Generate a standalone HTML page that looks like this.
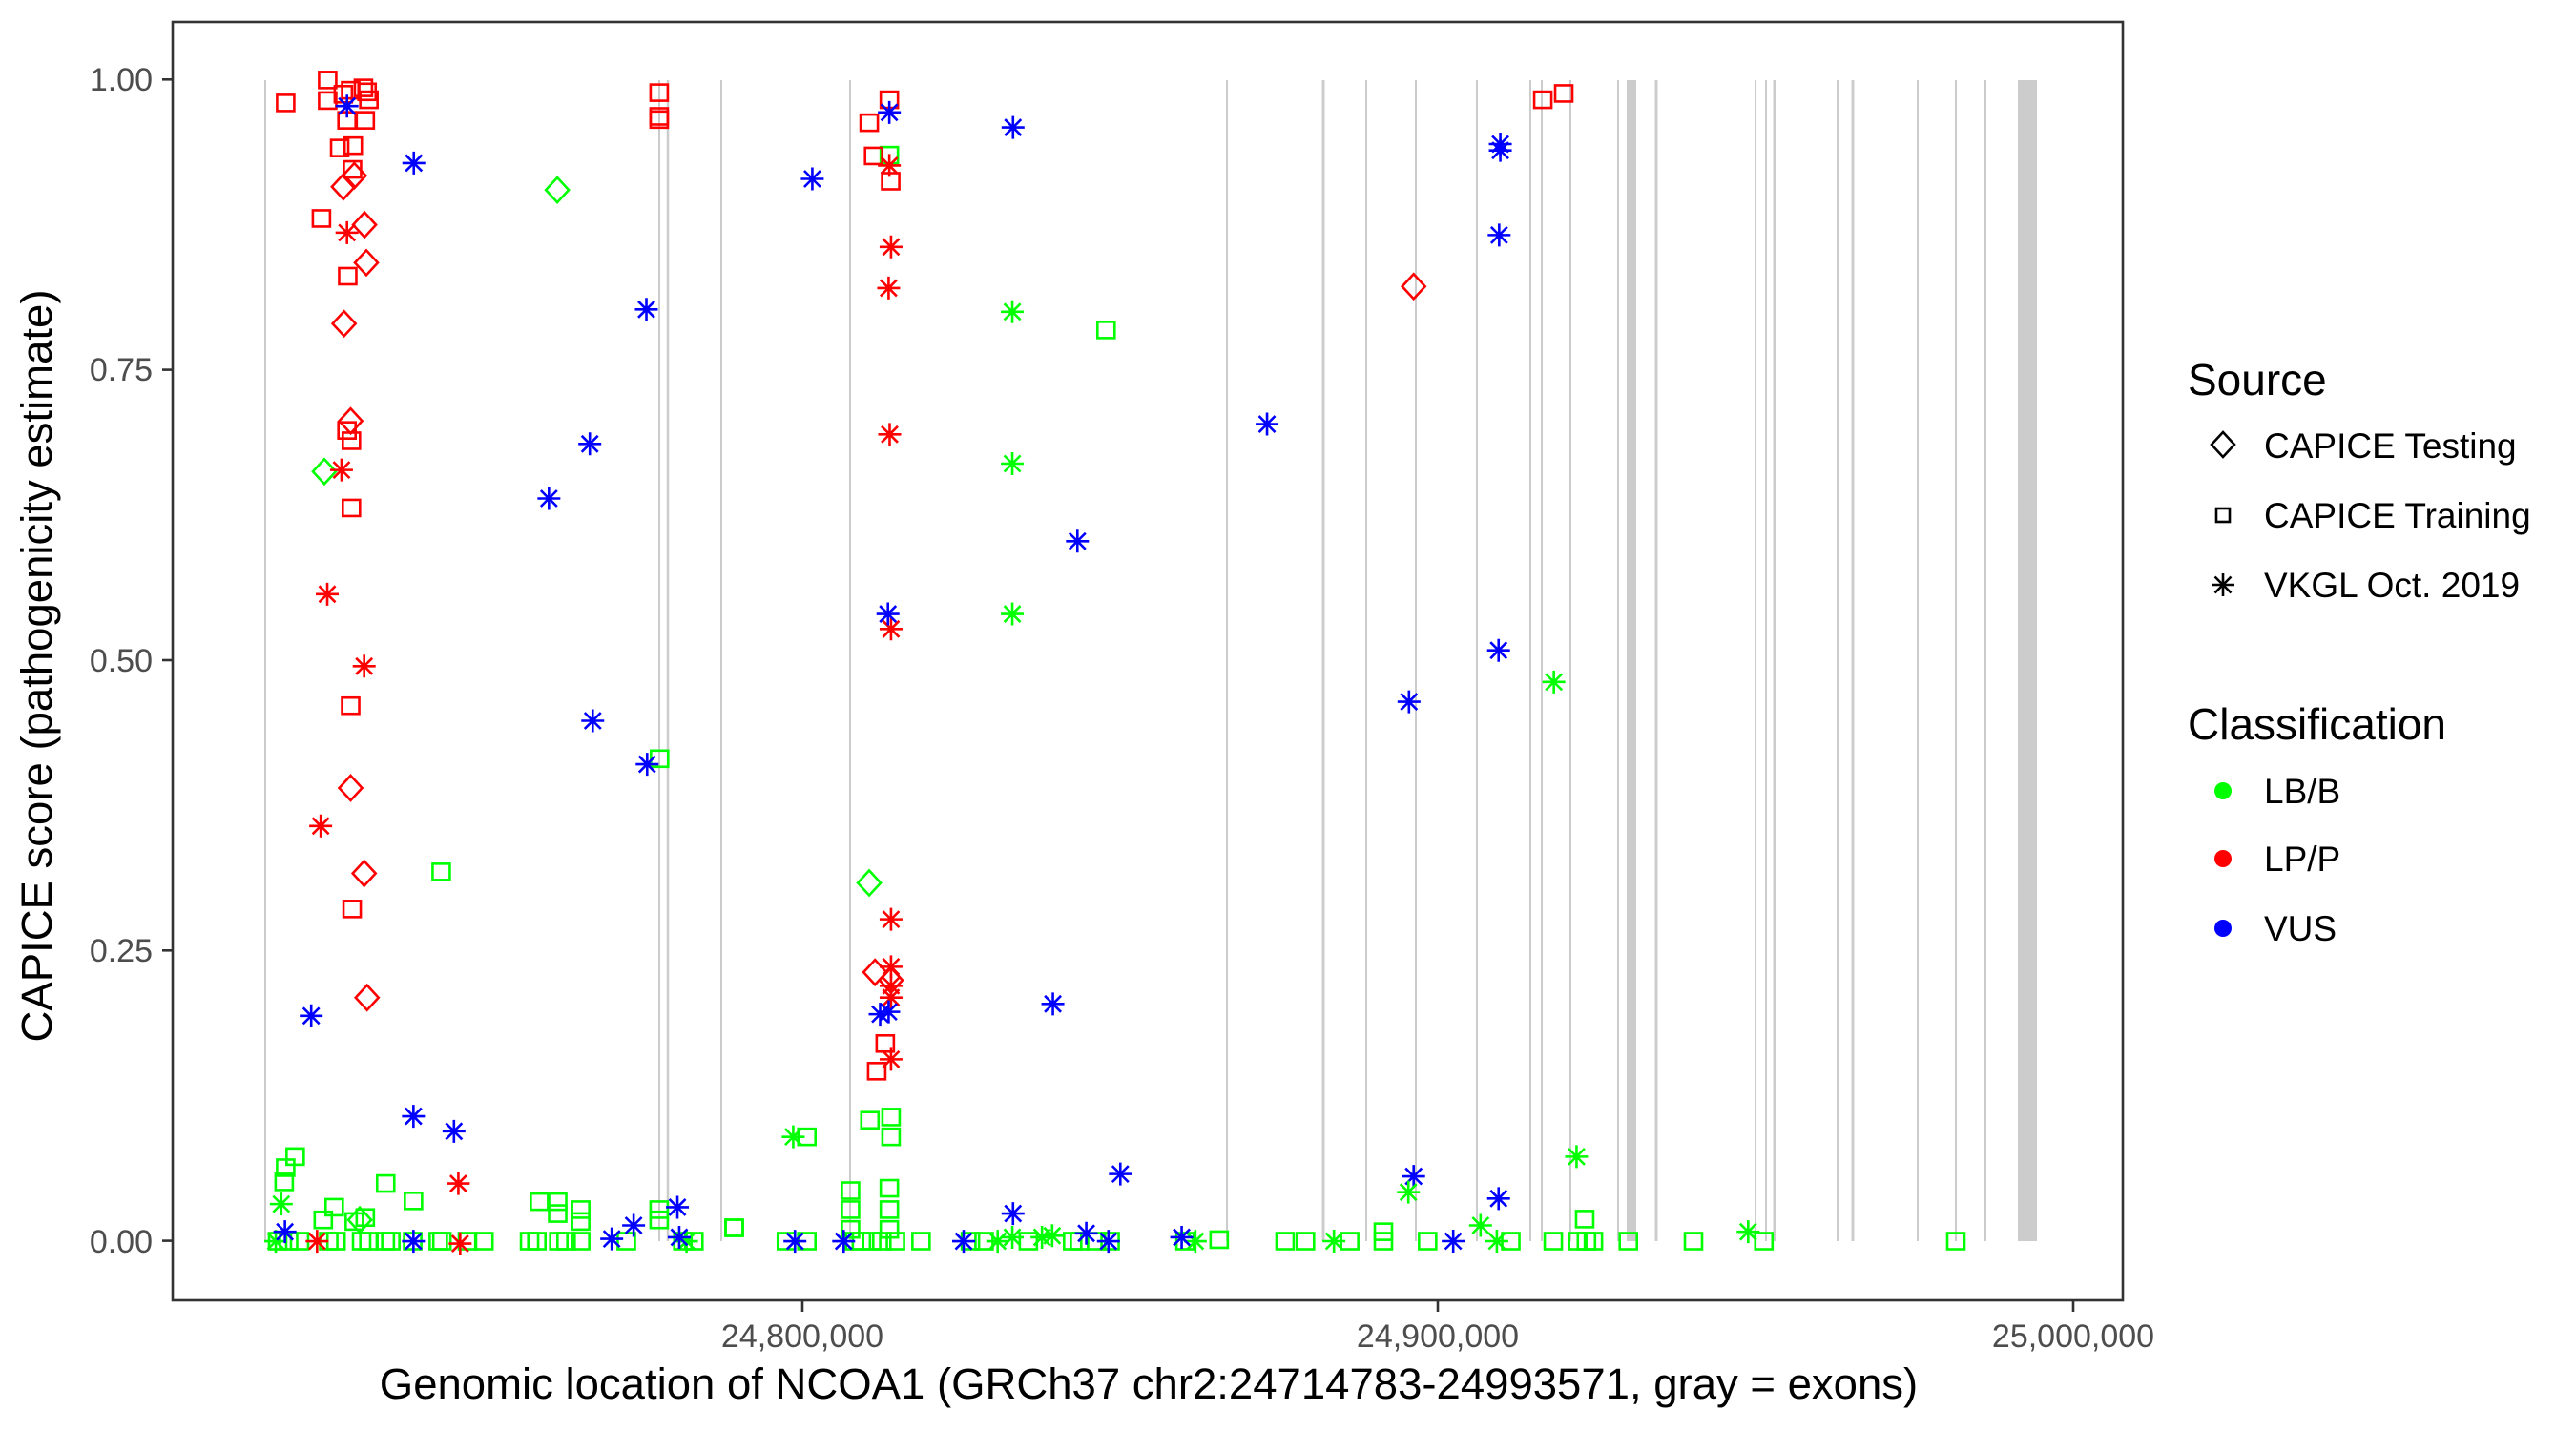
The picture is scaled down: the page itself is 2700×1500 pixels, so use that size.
<!DOCTYPE html>
<html><head><meta charset="utf-8"><style>
html,body{margin:0;padding:0;background:#fff;}
svg{display:block;font-family:"Liberation Sans",Arial,sans-serif;}
</style></head><body>
<svg id="s" width="2700" height="1500" viewBox="0 0 2700 1500" xmlns="http://www.w3.org/2000/svg">
<rect width="2700" height="1500" fill="#fff"/>
<g id="exons"></g>
<g id="pts" fill="none" stroke-width="2.6"></g>
<rect x="181" y="23" width="2044" height="1340" fill="none" stroke="#333" stroke-width="2.6"/>
<g stroke="#333" stroke-width="2.6">
<line x1="170" y1="83.3" x2="181" y2="83.3"/><line x1="170" y1="387.6" x2="181" y2="387.6"/><line x1="170" y1="692" x2="181" y2="692"/><line x1="170" y1="996.3" x2="181" y2="996.3"/><line x1="170" y1="1300.6" x2="181" y2="1300.6"/>
<line x1="841" y1="1363" x2="841" y2="1375"/><line x1="1507" y1="1363" x2="1507" y2="1375"/><line x1="2173" y1="1363" x2="2173" y2="1375"/>
</g>
<g fill="#4D4D4D" font-size="34" text-anchor="end">
<text x="160" y="95">1.00</text><text x="160" y="399">0.75</text><text x="160" y="704">0.50</text><text x="160" y="1008">0.25</text><text x="160" y="1313">0.00</text>
</g>
<g fill="#4D4D4D" font-size="34" text-anchor="middle">
<text x="841" y="1412">24,800,000</text><text x="1507" y="1412">24,900,000</text><text x="2173" y="1412">25,000,000</text>
</g>
<text x="1204" y="1466" font-size="45.5" text-anchor="middle" fill="#000">Genomic location of NCOA1 (GRCh37 chr2:24714783-24993571, gray = exons)</text>
<text transform="translate(54,698) rotate(-90)" font-size="45.5" text-anchor="middle" fill="#000">CAPICE score (pathogenicity estimate)</text>
<g font-size="46" fill="#000"><text x="2293" y="414">Source</text><text x="2293" y="775">Classification</text></g>
<g font-size="37" fill="#000">
<text x="2373" y="480">CAPICE Testing</text><text x="2373" y="553">CAPICE Training</text><text x="2373" y="626">VKGL Oct. 2019</text>
<text x="2373" y="842">LB/B</text><text x="2373" y="913">LP/P</text><text x="2373" y="986">VUS</text>
</g>
<g id="leg" fill="none" stroke="#000" stroke-width="2.6"></g>
<circle cx="2330" cy="829" r="9" fill="#00FF00"/><circle cx="2330" cy="900" r="9" fill="#FF0000"/><circle cx="2330" cy="973" r="9" fill="#0000FF"/>
</svg>
<script>
var NS="http://www.w3.org/2000/svg";
function el(p,t,a){var e=document.createElementNS(NS,t);for(var k in a)e.setAttribute(k,a[k]);p.appendChild(e);return e;}
var ex=document.getElementById('exons');
var thin=[[278,2],[691,2],[700,2.5],[756,2],[891,2],[1286,2],[1387,3],[1432,2],[1484,2],[1548,2],[1604,2],[1616,2],[1646,2],[1696,2],[1736,3],[1840,2],[1851,2],[1860,3],[1926,2],[1942,3],[2010,2],[2050,2],[2081,2]];
thin.forEach(function(l){el(ex,'rect',{x:l[0]-l[1]/2,y:84,width:l[1],height:1217,fill:'#CCCCCC'});});
el(ex,'rect',{x:1705,y:84,width:10,height:1217,fill:'#CCCCCC'});
el(ex,'rect',{x:2115,y:84,width:20,height:1217,fill:'#CCCCCC'});
var pg=document.getElementById('pts');
var C={r:'#FF0000',g:'#00FF00',b:'#0000FF'};
function sq(g,x,y,c){el(g,'rect',{x:x-9,y:y-8.5,width:18,height:17,stroke:c});}
function di(g,x,y,c){el(g,'polygon',{points:(x)+','+(y-13)+' '+(x+12)+','+y+' '+x+','+(y+13)+' '+(x-12)+','+y,stroke:c});}
function st(g,x,y,c){var r=12,d=8.5;el(g,'path',{d:'M'+(x-r)+' '+y+'H'+(x+r)+'M'+x+' '+(y-r)+'V'+(y+r)+'M'+(x-d)+' '+(y-d)+'L'+(x+d)+' '+(y+d)+'M'+(x-d)+' '+(y+d)+'L'+(x+d)+' '+(y-d),stroke:c});}
var F={s:sq,d:di,a:st};
var Z={6:[180,2.613],7:[760,2.8],5:[1300,1.64]};
function P(z,list){var f=Z[z];list.forEach(function(p){var x=f[0]+p[2]/f[1];var y=p[3]===0?1301:20+p[3]/1.206;F[p[0]](pg,x,y,C[p[1]]);});}
function row(z,shape,col,xs){P(z,xs.map(function(x){return [shape,col,x,0];}));}
row(6,'s','g',[290,320,350,430,450,520,540,585,600,660,730,740,810,855,980,1000,1060,1080,1120,1245,1400,1430]);
P(6,[['s','g',1336,935],['s','g',738,1078],['s','g',338,1438],['s','g',312,1452],['s','g',308,1470],['s','g',586,1472],['s','g',662,1494],['s','g',1007,1495],['s','g',1057,1495],['s','g',1057,1510],['s','g',1120,1505],['s','g',1120,1520],['s','g',1335,1505],['s','g',1335,1518],['s','g',1540,1528],['s','g',445,1502],['s','g',415,1518],['s','g',530,1515],['s','g',500,1520],
['a','g',300,1498],['a','g',285,1545],['a','g',1410,1545],
['d','g',1056,216],['d','g',418,572],['d','g',515,1518],
['s','r',312,106],['s','r',427,77],['s','r',427,103],['s','r',470,95],['s','r',490,90],['s','r',525,87],['s','r',535,92],['s','r',540,102],['s','r',480,128],['s','r',530,128],['s','r',460,163],['s','r',497,160],['s','r',495,190],['s','r',410,252],['s','r',482,325],['s','r',480,520],['s','r',492,533],['s','r',492,618],['s','r',490,868],['s','r',494,1125],['s','r',1335,93],['s','r',1335,123],['s','r',1335,127],
['d','r',470,212],['d','r',500,198],['d','r',528,260],['d','r',533,308],['d','r',472,385],['d','r',490,508],['d','r',490,972],['d','r',527,1080],['d','r',535,1237],
['a','r',480,270],['a','r',465,570],['a','r',426,727],['a','r',527,818],['a','r',408,1020],['a','r',785,1472],['a','r',398,1545],['a','r',790,1548],
['a','b',480,110],['a','b',663,182],['a','b',1300,367],['a','b',1145,537],['a','b',1033,606],['a','b',1153,887],['a','b',1302,942],['a','b',382,1260],['a','b',662,1387],['a','b',773,1406],['a','b',1385,1502],['a','b',1265,1525],['a','b',1205,1542],['a','b',662,1545],['a','b',310,1533],['a','b',1390,1540]]);
row(7,'s','g',[180,240,380,400,430,460,500,575,720,760,890,1020,1040,1090,1130,1350]);
P(7,[['s','g',482,172],['s','g',1118,393],['s','g',425,1392],['s','g',487,1388],['s','g',487,1413],['s','g',240,1413],['s','g',27,1528],['s','g',368,1481],['s','g',482,1478],['s','g',368,1505],['s','g',482,1505],['s','g',368,1530],['s','g',482,1530],['s','g',1450,1543],
['a','g',843,370],['a','g',843,562],['a','g',843,752],['a','g',200,1413],['a','g',843,1540],['a','g',800,1545],['a','g',930,1540],['a','g',960,1538],['a','g',1380,1545],
['d','g',423,1092],
['s','r',482,102],['s','r',423,131],['s','r',436,173],['s','r',486,205],['s','r',470,1295],['s','r',445,1330],
['a','r',482,185],['a','r',487,288],['a','r',480,340],['a','r',483,525],['a','r',487,771],['a','r',487,1138],['a','r',487,1198],['a','r',487,1222],['a','r',487,1237],['a','r',487,1315],
['d','r',440,1205],['d','r',487,1215],
['a','b',482,118],['a','b',845,137],['a','b',256,202],['a','b',1034,660],['a','b',478,752],['a','b',962,1245],['a','b',455,1258],['a','b',480,1255],['a','b',1160,1460],['a','b',845,1510],['a','b',205,1545],['a','b',348,1545],['a','b',700,1545],['a','b',1060,1535],['a','b',1125,1545],['a','b',1340,1540]]);
row(5,'s','g',[77,112,188,246,322,465,538,580,595,607,667,779,900,1230]);
P(5,[['s','g',246,1533],['s','g',592,1517],['a','g',161,0],['a','g',441,0],['a','b',366,0],
['s','r',520,102],['s','r',556,94],['a','b',447,158],['a','b',447,166],['a','b',445,273],['d','r',298,338],['a','b',46,512],['a','b',444,798],['a','g',539,838],['a','b',290,863],['a','g',578,1438],['a','b',298,1463],['a','g',289,1483],['a','b',444,1491],['a','g',413,1525],['a','g',873,1533]]);
var lg=document.getElementById('leg');
di(lg,2330,466,'#000');
el(lg,'rect',{x:2323,y:533,width:14,height:14,stroke:'#000'});
st(lg,2330,613,'#000');
</script>
</body></html>
